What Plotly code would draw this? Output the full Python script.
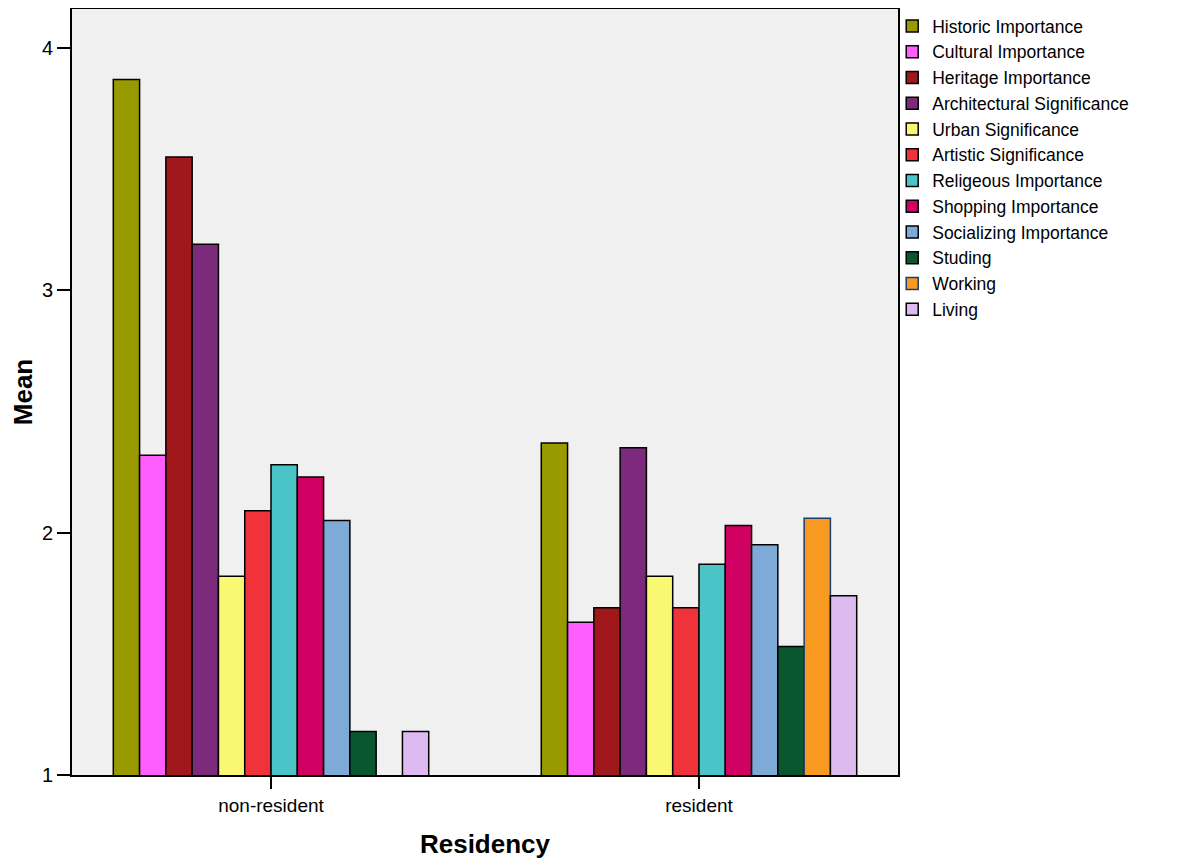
import plotly.graph_objects as go

categories = ["non-resident", "resident"]
series_names = [
    "Historic Importance", "Cultural Importance", "Heritage Importance",
    "Architectural Significance", "Urban Significance", "Artistic Significance",
    "Religeous Importance", "Shopping Importance", "Socializing Importance",
    "Studing", "Working", "Living",
]
non_resident = [3.87, 2.32, 3.55, 3.19, 1.82, 2.09, 2.28, 2.23, 2.05, 1.18, None, 1.18]
resident = [2.37, 1.63, 1.69, 2.35, 1.82, 1.69, 1.87, 2.03, 1.95, 1.53, 2.06, 1.74]
colors = ["#999900", "#FF5EFF", "#A0171C", "#7E2A7C", "#FAF872", "#F0333A",
          "#4AC4C6", "#D10063", "#7DAAD7", "#0A562E", "#F99A20", "#DDBBF0"]
outline = ["black"] * 10 + ["#1a3d6b", "black"]

fig = go.Figure()
for i, name in enumerate(series_names):
    fig.add_trace(go.Bar(
        name=name, x=categories, y=[non_resident[i], resident[i]],
        marker=dict(color=colors[i], line=dict(color=outline[i], width=1.5)),
    ))

font = "Liberation Sans, Arial, sans-serif"
fig.update_layout(
    width=1189, height=853,
    barmode="group", bargap=0.263, bargroupgap=0,
    plot_bgcolor="#F0F0F0", paper_bgcolor="white",
    margin=dict(l=64, r=299, t=1, b=86, autoexpand=False),
    font=dict(family=font, size=19, color="black"),
    legend=dict(x=0.993, xanchor="left", y=1.016, yanchor="top", yref="container",
                font=dict(size=17.5), tracegroupgap=0, bgcolor="rgba(0,0,0,0)",
                itemclick=False),
    showlegend=True,
)
fig.update_xaxes(
    range=[-0.465, 1.465], showline=True, linecolor="black", linewidth=2,
    mirror=True, ticks="outside", ticklen=12, tickwidth=2, tickcolor="black",
    title=dict(text="<b>Residency</b>", font=dict(size=26), standoff=20),
    tickfont=dict(size=19),
)
fig.update_yaxes(
    range=[1, 4.161], tickvals=[1, 2, 3, 4], showline=True, linecolor="black",
    linewidth=2, mirror=True, ticks="outside", ticklen=13, tickwidth=2,
    tickcolor="black", showgrid=False, zeroline=False,
    title=dict(text="<b>Mean</b>", font=dict(size=26), standoff=12),
    tickfont=dict(size=20),
)
fig.write_html("out.html")
